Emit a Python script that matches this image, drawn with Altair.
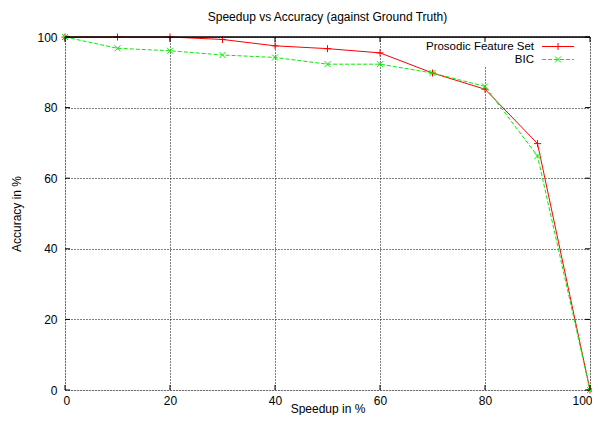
import altair as alt
import pandas as pd

speedup = [0, 10, 20, 30, 40, 50, 60, 70, 80, 90, 100]
prosodic = [100, 100, 100, 99.3, 97.5, 96.7, 95.5, 89.8, 85.2, 69.8, 0]
bic = [100, 96.8, 96.1, 94.9, 94.2, 92.3, 92.3, 89.8, 86.0, 66.3, 0]
ticks = [0, 20, 40, 60, 80, 100]
series_names = ["Prosodic Feature Set", "BIC"]
series_colors = ["#ff0000", "#00ee00"]

W, H = 525, 353
FONT = "Liberation Sans"

df = pd.DataFrame({"speedup": speedup, "prosodic": prosodic, "bic": bic})
tdf = pd.DataFrame({"t": ticks})
one = pd.DataFrame({"k": [0]})

xs = alt.Scale(domain=[0, 100], nice=False, zero=False)
ys = alt.Scale(domain=[0, 100], nice=False, zero=False)

xaxis = alt.Axis(values=ticks, title="Speedup in %", grid=True, gridDash=[1, 2],
                 gridColor="#000", gridOpacity=1, gridWidth=1, domain=False, ticks=False,
                 labelFont=FONT, labelFontSize=12, labelColor="#000", labelPadding=5,
                 titleFont=FONT, titleFontSize=12, titleFontWeight="normal", titleColor="#000",
                 titleBaseline="alphabetic", titleY=22, labelFlush=True, labelFlushOffset=2)
yaxis = alt.Axis(values=ticks, title="Accuracy in %", grid=True, gridDash=[1, 2],
                 gridColor="#000", gridOpacity=1, gridWidth=1, domain=False, ticks=False,
                 labelFont=FONT, labelFontSize=12, labelColor="#000", labelPadding=8,
                 titleFont=FONT, titleFontSize=12, titleFontWeight="normal", titleColor="#000",
                 titleX=-42, labelFlush=False)

base = alt.Chart(df)

grid = base.mark_point(opacity=0).encode(
    x=alt.X("speedup:Q", scale=xs, axis=xaxis),
    y=alt.Y("prosodic:Q", scale=ys, axis=yaxis),
)

legend_bg = alt.Chart(one).mark_rect(color="white").encode(
    x=alt.value(355), x2=alt.value(523), y=alt.value(1), y2=alt.value(30)
)

plus = "M-1,0L1,0M0,-1L0,1"
cross = "M-1,-1L1,1M-1,1L1,-1"

red_line = base.mark_line(color=series_colors[0], strokeWidth=1).encode(
    x=alt.X("speedup:Q", scale=xs), y=alt.Y("prosodic:Q", scale=ys))
red_pts = base.mark_point(shape=plus, color=series_colors[0], size=49, filled=False,
                          strokeWidth=1, opacity=1).encode(
    x=alt.X("speedup:Q", scale=xs), y=alt.Y("prosodic:Q", scale=ys))
green_line = base.mark_line(color=series_colors[1], strokeWidth=1, strokeDash=[4, 2]).encode(
    x=alt.X("speedup:Q", scale=xs), y=alt.Y("bic:Q", scale=ys))
green_pts = base.mark_point(shape=cross, color=series_colors[1], size=36, filled=False,
                            strokeWidth=1, opacity=1).encode(
    x=alt.X("speedup:Q", scale=xs), y=alt.Y("bic:Q", scale=ys))

# top border drawn over the data (as gnuplot does)
top_border = alt.Chart(one).mark_rule(color="#000", strokeWidth=1.5).encode(
    x=alt.value(0), x2=alt.value(W), y=alt.value(0))

tick_style = dict(color="#000", strokeWidth=1)
tb = alt.Chart(tdf).mark_rule(**tick_style).encode(
    x=alt.X("t:Q", scale=xs), y=alt.value(H - 5), y2=alt.value(H))
tt = alt.Chart(tdf).mark_rule(**tick_style).encode(
    x=alt.X("t:Q", scale=xs), y=alt.value(0), y2=alt.value(5))
tl = alt.Chart(tdf).mark_rule(**tick_style).encode(
    y=alt.Y("t:Q", scale=ys), x=alt.value(0), x2=alt.value(5))
tr = alt.Chart(tdf).mark_rule(**tick_style).encode(
    y=alt.Y("t:Q", scale=ys), x=alt.value(W - 5), x2=alt.value(W))

leg = []
for i, (name, col) in enumerate(zip(series_names, series_colors)):
    yy = 9.5 + 13 * i
    leg.append(alt.Chart(one).mark_text(text=name, align="right", baseline="middle",
                                        font=FONT, fontSize=11.5, color="#000").encode(
        x=alt.value(469), y=alt.value(yy)))
    rule_kw = dict(color=col, strokeWidth=1)
    if i == 1:
        rule_kw["strokeDash"] = [4, 2]
    leg.append(alt.Chart(one).mark_rule(**rule_kw).encode(
        x=alt.value(477), x2=alt.value(509), y=alt.value(yy)))
    leg.append(alt.Chart(one).mark_point(shape=plus if i == 0 else cross, color=col,
                                         size=49 if i == 0 else 36, filled=False,
                                         strokeWidth=1, opacity=1).encode(
        x=alt.value(493), y=alt.value(yy)))

chart = alt.layer(grid, legend_bg, red_line, red_pts, green_line, green_pts, top_border,
                  tb, tt, tl, tr, *leg).properties(
    width=W, height=H,
    title=alt.TitleParams("Speedup vs Accuracy (against Ground Truth)", font=FONT,
                          fontSize=12, fontWeight="normal", color="#000",
                          anchor="middle", offset=7),
    autosize=alt.AutoSizeParams(type="none"),
    padding={"left": 57, "top": 29, "right": 2, "bottom": 25},
).configure_view(stroke="#000", strokeWidth=1.5).configure(background="white")

chart.save("out.html", embed_options={"renderer": "svg", "actions": False})
